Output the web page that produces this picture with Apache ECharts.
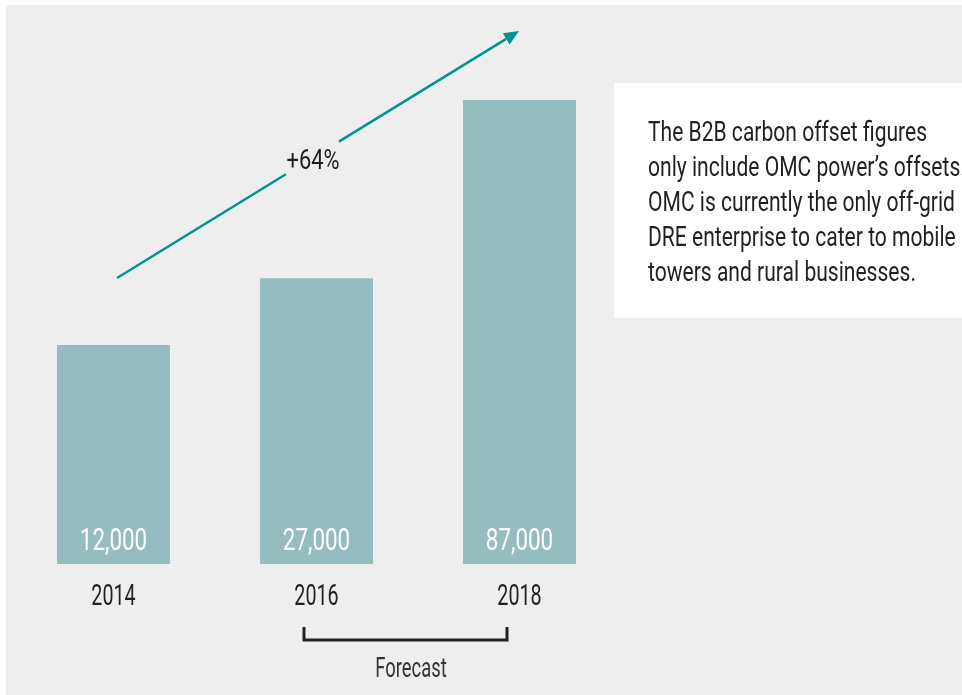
<!DOCTYPE html>
<html>
<head>
<meta charset="utf-8">
<script src="https://cdn.jsdelivr.net/npm/echarts@6/dist/echarts.min.js"></script>
<style>
  html, body { margin: 0; padding: 0; background: #fff; }
  #chart { width: 962px; height: 695px; }
</style>
</head>
<body>
<div id="chart"></div>
<script>
// years on the axis
const years = ['2014', '2016', '2018']
// figures printed inside the bars
const figures = [12000, 27000, 87000]
// bar lengths as drawn in the artwork (it is not to scale), % of the tallest
const barLengths = [47.2, 61.6, 100]
const growthLabel = '+64%'
const bracketLabel = 'Forecast'
const note = [
  'The B2B carbon offset figures',
  'only include OMC power\u2019s offsets.',
  'OMC is currently the only off-grid',
  'DRE enterprise to cater to mobile',
  'towers and rural businesses.'
]

// no condensed face is installed, so text is squeezed horizontally
const font = 'Roboto, sans-serif'
const ink = '#231f20'
const teal = '#009490'

const chart = echarts.init(document.getElementById('chart'))

chart.setOption({
  backgroundColor: '#fff',
  animation: false,
  grid: {
    left: 12,
    width: 609,
    top: 100,
    bottom: 131
  },
  xAxis: {
    type: 'category',
    data: years,
    axisLine: { show: false },
    axisTick: { show: false },
    axisLabel: { show: false }
  },
  yAxis: {
    type: 'value',
    min: 0,
    max: 100,
    show: false,
    splitLine: { show: false }
  },
  series: [
    {
      type: 'bar',
      data: barLengths,
      barWidth: 113,
      itemStyle: { color: '#95bcbe' },
      z: 3
    }
  ]
})

function squeezed (x, y, text, size, sx, opts) {
  return Object.assign({
    type: 'text',
    x: x,
    y: y,
    scaleX: sx,
    z: 10,
    style: {
      text: text,
      fill: ink,
      font: size + 'px ' + font,
      align: 'center',
      verticalAlign: 'middle'
    }
  }, opts || {})
}

const graphics = [
  {
    type: 'rect',
    z: -10,
    silent: true,
    shape: { x: 6, y: 5, width: 962, height: 700 },
    style: { fill: '#eeeeee' }
  },
  // note box
  {
    type: 'rect',
    z: -5,
    shape: { x: 614, y: 83, width: 400, height: 235 },
    style: { fill: '#fff' }
  }
]

note.forEach((line, i) => {
  const t = squeezed(648, 134 + i * 35, line, 27, 0.78)
  t.style.align = 'left'
  graphics.push(t)
})

// year labels and figures, placed from the axis scale
years.forEach((y, i) => {
  const p = chart.convertToPixel({ gridIndex: 0 }, [y, 0])
  graphics.push(squeezed(p[0], p[1] + 34, y, 29, 0.68))
  graphics.push(squeezed(p[0], p[1] - 22, figures[i].toLocaleString('en-US'), 32, 0.7, {
    style: {
      text: figures[i].toLocaleString('en-US'),
      fill: '#fff',
      font: '32px ' + font,
      align: 'center',
      verticalAlign: 'middle'
    }
  }))
})

// growth arrow, broken around the label
const a0 = [117, 278]
const a1 = [519, 31]
const dx = a1[0] - a0[0]
const dy = a1[1] - a0[1]
const len = Math.sqrt(dx * dx + dy * dy)
const ux = dx / len
const uy = dy / len
const headLen = 15
const headHalf = 6.5
const base = [a1[0] - ux * headLen, a1[1] - uy * headLen]
const at = t => [a0[0] + dx * t, a0[1] + dy * t]

graphics.push(
  {
    type: 'line',
    shape: { x1: a0[0], y1: a0[1], x2: at(0.42)[0], y2: at(0.42)[1] },
    style: { stroke: teal, lineWidth: 2.5 }
  },
  {
    type: 'line',
    shape: { x1: at(0.552)[0], y1: at(0.552)[1], x2: base[0], y2: base[1] },
    style: { stroke: teal, lineWidth: 2.5 }
  },
  {
    type: 'polygon',
    shape: {
      points: [
        a1,
        [base[0] - uy * headHalf, base[1] + ux * headHalf],
        [base[0] + uy * headHalf, base[1] - ux * headHalf]
      ]
    },
    style: { fill: teal }
  },
  squeezed(313, 162, growthLabel, 28, 0.78),
  // forecast bracket
  {
    type: 'polyline',
    shape: { points: [[304, 627], [304, 640], [507, 640], [507, 627]] },
    style: { stroke: ink, lineWidth: 3, fill: null }
  },
  squeezed(411, 670, bracketLabel, 27, 0.68, {
    style: {
      text: bracketLabel,
      fill: '#333',
      font: '27px ' + font,
      align: 'center',
      verticalAlign: 'middle'
    }
  })
)

chart.setOption({ graphic: graphics })
</script>
</body>
</html>
